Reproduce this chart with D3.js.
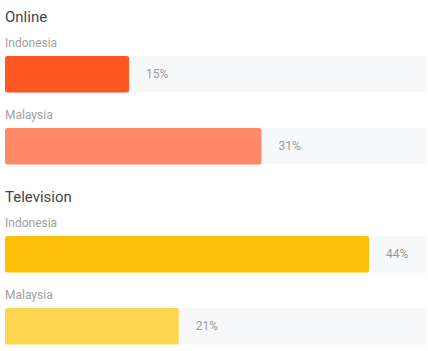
<!DOCTYPE html>
<html><head><meta charset="utf-8">
<script src="https://cdn.jsdelivr.net/npm/d3@7"></script>
<style>body{margin:0;background:#fff;font-family:Roboto,"Noto Sans",sans-serif;}</style>
</head><body><svg id="c" width="428" height="351"></svg>
<script>
const groups = ["Online", "Television"];
const countries = ["Indonesia", "Malaysia"];
const onlineValues = [15, 31];
const televisionValues = [44, 21];
const groupColors = [["#FF5722", "#FF8A65"], ["#FFC107", "#FFD54F"]];
const valuesByGroup = [onlineValues, televisionValues];

const svg = d3.select("#c");
const x = d3.scaleLinear().domain([0, 51]).range([5, 427]);
const groupTop = [0, 180];
const rowOffset = [0, 72];
const barH = 36.5;

groups.forEach((g, gi) => {
  const gy = groupTop[gi];
  svg.append("text").attr("x", 5).attr("y", gy + 21.5)
    .attr("font-size", 15).attr("fill", "#444").text(g);
  countries.forEach((c, ci) => {
    const by = gy + 56 + rowOffset[ci];
    svg.append("text").attr("x", 5).attr("y", by - 9)
      .attr("font-size", 12).attr("fill", "#a0a0a0").text(c);
    svg.append("rect").attr("x", x(0)).attr("y", by)
      .attr("width", x.range()[1] - x(0)).attr("height", barH)
      .attr("fill", "#f7f8fa");
    const v = valuesByGroup[gi][ci];
    svg.append("rect").attr("x", x(0)).attr("y", by)
      .attr("width", x(v) - x(0)).attr("height", barH)
      .attr("rx", 2.5).attr("fill", groupColors[gi][ci]);
    svg.append("text").attr("x", x(v) + 17).attr("y", by + barH / 2)
      .attr("dy", "0.35em").attr("font-size", 12).attr("fill", "#9a9a9a")
      .text(v + "%");
  });
});
</script></body></html>
